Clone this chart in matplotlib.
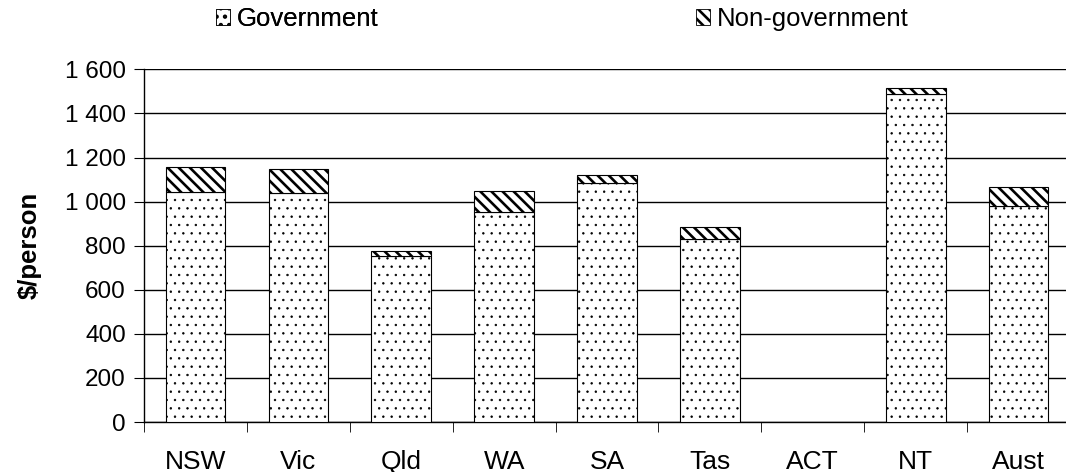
import numpy as np
import matplotlib
matplotlib.use("Agg")
import matplotlib.pyplot as plt
from matplotlib.patches import Patch

plt.rcParams['font.family'] = ['Liberation Sans', 'DejaVu Sans']

# Data ($/person)
states = ['NSW', 'Vic', 'Qld', 'WA', 'SA', 'Tas', 'ACT', 'NT', 'Aust']
government = [1042, 1038, 755, 951, 1083, 829, np.nan, 1487, 980]
non_government = [114, 110, 21, 96, 36, 54, np.nan, 27, 85]
yticks = [0, 200, 400, 600, 800, 1000, 1200, 1400, 1600]
ytick_labels = ['0', '200', '400', '600', '800', '1 000', '1 200', '1 400', '1 600']

GOV_HATCH = '..'
NGOV_HATCH = '\\\\\\'

fig = plt.figure(figsize=(10.66, 4.72), dpi=100)
ax = fig.add_axes([0.1351, 0.1059, 0.8687, 0.7472])

x = np.arange(len(states))
gov = np.array(government)
ngov = np.array(non_government)

# hatch line width is picked up when each patch is made
plt.rcParams['hatch.linewidth'] = 0.5
ax.bar(x, gov, width=0.58, color='white', edgecolor='black', linewidth=0.8,
       hatch=GOV_HATCH, zorder=3)
gov_handle = Patch(facecolor='white', edgecolor='black', hatch=GOV_HATCH, linewidth=0.6)

plt.rcParams['hatch.linewidth'] = 1.9
ax.bar(x, ngov, bottom=gov, width=0.58, color='white', edgecolor='black',
       linewidth=0.8, hatch=NGOV_HATCH, zorder=3)
ngov_handle = Patch(facecolor='white', edgecolor='black', hatch=NGOV_HATCH, linewidth=0.6)

ax.set_xlim(-0.5, len(states) - 0.5)
ax.set_ylim(0, 1600)
ax.set_yticks(yticks)
ax.set_yticklabels(ytick_labels, fontsize=17.5)
ax.yaxis.grid(True, color='black', linewidth=1.0, zorder=0)

ax.set_xticks(x)
ax.set_xticklabels(states, fontsize=19)
ax.tick_params(axis='x', length=0, pad=20)
ax.set_xticks(np.arange(len(states) + 1) - 0.5, minor=True)
ax.tick_params(axis='x', which='minor', length=7, direction='out', color='black')
ax.tick_params(axis='y', length=7, direction='out', color='black', pad=6)

for side in ['top', 'right']:
    ax.spines[side].set_visible(False)
ax.spines['left'].set_linewidth(1.0)
ax.spines['bottom'].set_linewidth(1.0)

ax.set_ylabel('$/person', fontsize=18.5, fontweight='bold', labelpad=17)

leg_kw = dict(loc='center left', frameon=False, fontsize=18.5, borderpad=0,
              borderaxespad=0, handlelength=0.55, handleheight=0.55,
              handletextpad=0.25)
leg1 = fig.legend([gov_handle], ['Government'],
                  bbox_to_anchor=(216 / 1066, 1 - 19 / 472), **leg_kw)
fig.add_artist(leg1)
fig.legend([ngov_handle], ['Non-government'],
           bbox_to_anchor=(696 / 1066, 1 - 19 / 472), **leg_kw)

fig.savefig('out.png', dpi=100)
